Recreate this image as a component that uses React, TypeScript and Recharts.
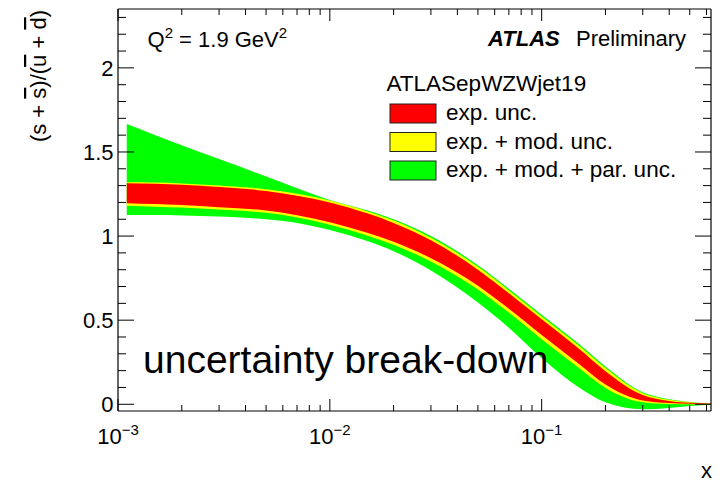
import { ComposedChart, Area, XAxis, YAxis } from 'recharts';

// PDF ratio (s + sbar)/(ubar + dbar) at Q^2 = 1.9 GeV^2, bands built up from
// experimental, model and parametrisation uncertainties
const xValues = [0.0011, 0.0015, 0.002, 0.003, 0.005, 0.007, 0.01, 0.015, 0.02, 0.03, 0.05, 0.07, 0.1, 0.15, 0.2, 0.3, 0.4, 0.5, 0.63];
const expLow = [1.195, 1.19, 1.184, 1.172, 1.152, 1.124, 1.082, 1.02, 0.966, 0.868, 0.705, 0.568, 0.412, 0.24, 0.117, 0.022, 0.007, 0.003, 0.0];
const expHigh = [1.314, 1.311, 1.305, 1.292, 1.268, 1.24, 1.2, 1.135, 1.078, 0.975, 0.8, 0.66, 0.505, 0.33, 0.197, 0.055, 0.02, 0.009, 0.003];
const modLow = [1.18, 1.175, 1.17, 1.158, 1.138, 1.11, 1.067, 1.004, 0.949, 0.849, 0.683, 0.545, 0.387, 0.215, 0.097, 0.012, 0.002, 0.0, -0.001];
const modHigh = [1.32, 1.318, 1.313, 1.301, 1.279, 1.252, 1.212, 1.148, 1.092, 0.99, 0.817, 0.677, 0.522, 0.348, 0.215, 0.066, 0.027, 0.012, 0.004];
const parLow = [1.125, 1.125, 1.123, 1.116, 1.1, 1.078, 1.036, 0.97, 0.91, 0.795, 0.605, 0.455, 0.275, 0.1, 0.012, -0.03, -0.022, -0.011, -0.003];
const parHigh = [1.666, 1.6, 1.54, 1.458, 1.354, 1.285, 1.215, 1.153, 1.1, 1.0, 0.827, 0.687, 0.532, 0.358, 0.225, 0.072, 0.03, 0.014, 0.004];

const xMajorTicks = [0.001, 0.01, 0.1];
const xTickExponents = ['\u22123', '\u22122', '\u22121'];
const xMinorTicks = [
  0.002, 0.003, 0.004, 0.005, 0.006, 0.007, 0.008, 0.009,
  0.02, 0.03, 0.04, 0.05, 0.06, 0.07, 0.08, 0.09,
  0.2, 0.3, 0.4, 0.5, 0.6,
];
const yMajorTicks = [0, 0.5, 1, 1.5, 2];
const yTickLabels = ['0', '0.5', '1', '1.5', '2'];
const yMinorTicks = [
  0.1, 0.2, 0.3, 0.4, 0.6, 0.7, 0.8, 0.9, 1.1, 1.2, 1.3, 1.4,
  1.6, 1.7, 1.8, 1.9, 2.1, 2.2, 2.3,
];

const legendTitle = 'ATLASepWZWjet19';
const legendLabels = ['exp. unc.', 'exp. + mod. unc.', 'exp. + mod. + par. unc.'];
const bandColors = ['#ff0000', '#ffff00', '#00ff00'];

const data = xValues.map((x, i) => ({
  x,
  exp: [expLow[i], expHigh[i]],
  mod: [modLow[i], modHigh[i]],
  par: [parLow[i], parHigh[i]],
}));

const W = 724;
const H = 482;
const FONT = '"Liberation Sans", Arial, Helvetica, sans-serif';

const xTicks = [...xMajorTicks, ...xMinorTicks].sort((a, b) => a - b);
const yTicks = [...yMajorTicks, ...yMinorTicks].sort((a, b) => a - b);

// ROOT style: ticks point into the frame, labels sit outside
function BottomTick(props: any) {
  const { x, y, payload } = props;
  const i = xMajorTicks.indexOf(payload.value);
  const len = i >= 0 ? 12 : 6;
  return (
    <g>
      <line x1={x} x2={x} y1={y} y2={y - len} stroke="#000" strokeWidth={1} />
      {i >= 0 && (
        <text x={x} y={y + 33} textAnchor="middle" fontSize={22} fontFamily={FONT} fill="#000">
          10
          <tspan dy={-9} fontSize={15}>{xTickExponents[i]}</tspan>
        </text>
      )}
    </g>
  );
}

function TopTick(props: any) {
  const { x, y, payload } = props;
  const len = xMajorTicks.includes(payload.value) ? 12 : 6;
  return <line x1={x} x2={x} y1={y} y2={y + len} stroke="#000" strokeWidth={1} />;
}

function LeftTick(props: any) {
  const { x, y, payload } = props;
  const i = yMajorTicks.indexOf(payload.value);
  const len = i >= 0 ? 16 : 8;
  return (
    <g>
      <line x1={x} x2={x + len} y1={y} y2={y} stroke="#000" strokeWidth={1} />
      {i >= 0 && (
        <text x={x - 4.5} y={y + 8} textAnchor="end" fontSize={22} fontFamily={FONT} fill="#000">
          {yTickLabels[i]}
        </text>
      )}
    </g>
  );
}

function RightTick(props: any) {
  const { x, y, payload } = props;
  const len = yMajorTicks.includes(payload.value) ? 16 : 8;
  return <line x1={x} x2={x - len} y1={y} y2={y} stroke="#000" strokeWidth={1} />;
}

function Labels() {
  const boxTops = [104, 132.5, 161];
  return (
    <svg
      width={W}
      height={H}
      style={{ position: 'absolute', left: 0, top: 0, pointerEvents: 'none' }}
      fontFamily={FONT}
    >
      <text x={147.5} y={46.5} fontSize={22}>
        Q<tspan dy={-9} fontSize={15}>2</tspan>
        <tspan dy={9}> = 1.9 GeV</tspan>
        <tspan dy={-9} fontSize={15}>2</tspan>
      </text>
      <text x={488} y={45.5} fontSize={22} fontWeight="bold" fontStyle="italic">ATLAS</text>
      <text x={576} y={45.5} fontSize={22}>Preliminary</text>

      <text x={386.5} y={90.5} fontSize={22.5}>{legendTitle}</text>
      {legendLabels.map((label, i) => (
        <g key={label}>
          <rect x={390} y={boxTops[i]} width={46} height={19} fill={bandColors[i]} stroke="#222" strokeWidth={1} />
          <text x={446} y={boxTops[i] + 16} fontSize={22.5}>{label}</text>
        </g>
      ))}

      <text x={143} y={373} fontSize={39}>uncertainty break-down</text>

      <text transform="rotate(-90)" x={-10} y={46} textAnchor="end" fontSize={22}>
        (s + <tspan style={{ textDecoration: 'overline' }}>s</tspan>)/(
        <tspan style={{ textDecoration: 'overline' }}>u</tspan> + <tspan style={{ textDecoration: 'overline' }}>d</tspan>)
      </text>
      <text x={712} y={478} textAnchor="end" fontSize={22}>x</text>
    </svg>
  );
}

export default function App() {
  return (
    <div style={{ position: 'absolute', left: 0, top: 0, width: W, height: H, background: '#fff' }}>
      <ComposedChart
        width={W}
        height={H}
        data={data}
        margin={{ top: 8, right: 12, bottom: 70, left: 117 }}
      >
        <XAxis
          xAxisId="b"
          dataKey="x"
          type="number"
          scale="log"
          domain={[0.001, 0.63]}
          allowDataOverflow
          ticks={xTicks}
          interval={0}
          height={1}
          tickSize={0}
          tickMargin={0}
          tickLine={false}
          tick={BottomTick}
          axisLine={{ stroke: '#000', strokeWidth: 1.2 }}
        />
        <XAxis
          xAxisId="t"
          orientation="top"
          dataKey="x"
          type="number"
          scale="log"
          domain={[0.001, 0.63]}
          allowDataOverflow
          ticks={xTicks}
          interval={0}
          height={1}
          tickSize={0}
          tickMargin={0}
          tickLine={false}
          tick={TopTick}
          axisLine={{ stroke: '#000', strokeWidth: 1.2 }}
        />
        <YAxis
          yAxisId="l"
          type="number"
          domain={[-0.04, 2.35]}
          allowDataOverflow
          ticks={yTicks}
          interval={0}
          width={1}
          tickSize={0}
          tickMargin={0}
          tickLine={false}
          tick={LeftTick}
          axisLine={{ stroke: '#000', strokeWidth: 1.2 }}
        />
        <YAxis
          yAxisId="r"
          orientation="right"
          type="number"
          domain={[-0.04, 2.35]}
          allowDataOverflow
          ticks={yTicks}
          interval={0}
          width={1}
          tickSize={0}
          tickMargin={0}
          tickLine={false}
          tick={RightTick}
          axisLine={{ stroke: '#000', strokeWidth: 1.2 }}
        />
        <Area xAxisId="b" yAxisId="l" dataKey="par" name={legendLabels[2]} type="monotone" fill={bandColors[2]} fillOpacity={1} stroke="none" isAnimationActive={false} />
        <Area xAxisId="b" yAxisId="l" dataKey="mod" name={legendLabels[1]} type="monotone" fill={bandColors[1]} fillOpacity={1} stroke="none" isAnimationActive={false} />
        <Area xAxisId="b" yAxisId="l" dataKey="exp" name={legendLabels[0]} type="monotone" fill={bandColors[0]} fillOpacity={1} stroke="none" isAnimationActive={false} />
      </ComposedChart>
      <Labels />
    </div>
  );
}
